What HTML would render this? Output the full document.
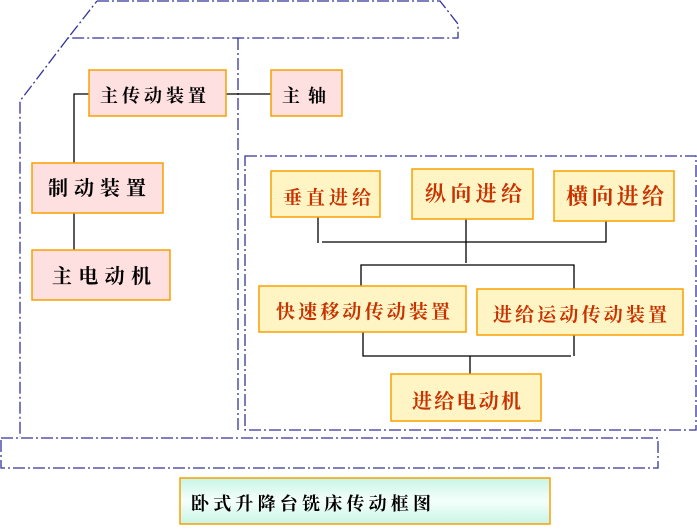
<!DOCTYPE html>
<html><head><meta charset="utf-8"><style>
html,body{margin:0;padding:0;background:#fff;width:697px;height:531px;overflow:hidden}
svg text{font-family:"Liberation Serif","Noto Serif CJK SC","Noto Sans CJK SC",serif;font-weight:bold}
</style></head><body>
<svg width="697" height="531" viewBox="0 0 697 531" xmlns="http://www.w3.org/2000/svg">
<defs><linearGradient id="g" x1="0" y1="0" x2="0" y2="1"><stop offset="0" stop-color="#c8f5e6"/><stop offset="0.5" stop-color="#f4fffb"/><stop offset="1" stop-color="#c8f5e6"/></linearGradient></defs>
<g fill="none" stroke="#33339a" stroke-width="1.3" stroke-dasharray="12,3,2,3">
<path d="M97,1 L440,1 L458,24 L458,38 L68,38 L97,1"/>
<path d="M68,38 L20,101 L20,437"/>
<path d="M238,38 L238,432"/>
<rect x="245" y="156" width="451" height="274"/>
<rect x="1" y="438" width="657" height="30"/>
</g>
<g fill="none" stroke="#000" stroke-width="1.3">
<path d="M89,94 L74,94 L74,163 M74,213 L74,250 M226,94 L271,94"/>
<path d="M318,217 L318,243 M322,242 L606,242 L606,221 M466,219 L466,263 M361,286 L361,265 L574,265 L574,289"/>
<path d="M363,332 L363,356 L571,356 M574,335 L574,356 M470,356 L470,374"/>
</g>
<g stroke="#f9a000" stroke-width="1.5">
<rect x="89" y="70" width="137" height="46" fill="#ffe0e0"/>
<rect x="271" y="70" width="71" height="46" fill="#ffe0e0"/>
<rect x="32" y="163" width="131" height="50" fill="#ffe0e0"/>
<rect x="32" y="250" width="138" height="50" fill="#ffe0e0"/>
<g fill="#fff4c4">
<rect x="271" y="171" width="109" height="46"/>
<rect x="412" y="169" width="121" height="50"/>
<rect x="554" y="171" width="120" height="50"/>
<rect x="259" y="286" width="207" height="46"/>
<rect x="477" y="289" width="206" height="46"/>
<rect x="391" y="374" width="150" height="47"/>
</g>
<rect x="180" y="478" width="370" height="46" fill="url(#g)"/>
</g>
<g fill="#000" font-size="18">
<text x="100" y="102" textLength="106" lengthAdjust="spacing">主传动装置</text>
<text x="282" y="102" textLength="44" lengthAdjust="spacing">主 轴</text>
<text x="48" y="195" font-size="20" textLength="98" lengthAdjust="spacing">制动装置</text>
<text x="52" y="283" font-size="20" textLength="99" lengthAdjust="spacing">主电动机</text>
<text x="191" y="510" textLength="240" lengthAdjust="spacing">卧式升降台铣床传动框图</text>
</g>
<g fill="#c83200">
<text x="283" y="204" font-size="19" textLength="88" lengthAdjust="spacing">垂直进给</text>
<text x="425" y="201" font-size="21" textLength="97" lengthAdjust="spacing">纵向进给</text>
<text x="566" y="204" font-size="22" textLength="98" lengthAdjust="spacing">横向进给</text>
<text x="276" y="318" font-size="19" textLength="174" lengthAdjust="spacing">快速移动传动装置</text>
<text x="493" y="321" font-size="19" textLength="174" lengthAdjust="spacing">进给运动传动装置</text>
<text x="412" y="408" font-size="20" textLength="109" lengthAdjust="spacing">进给电动机</text>
</g>
</svg>
</body></html>
